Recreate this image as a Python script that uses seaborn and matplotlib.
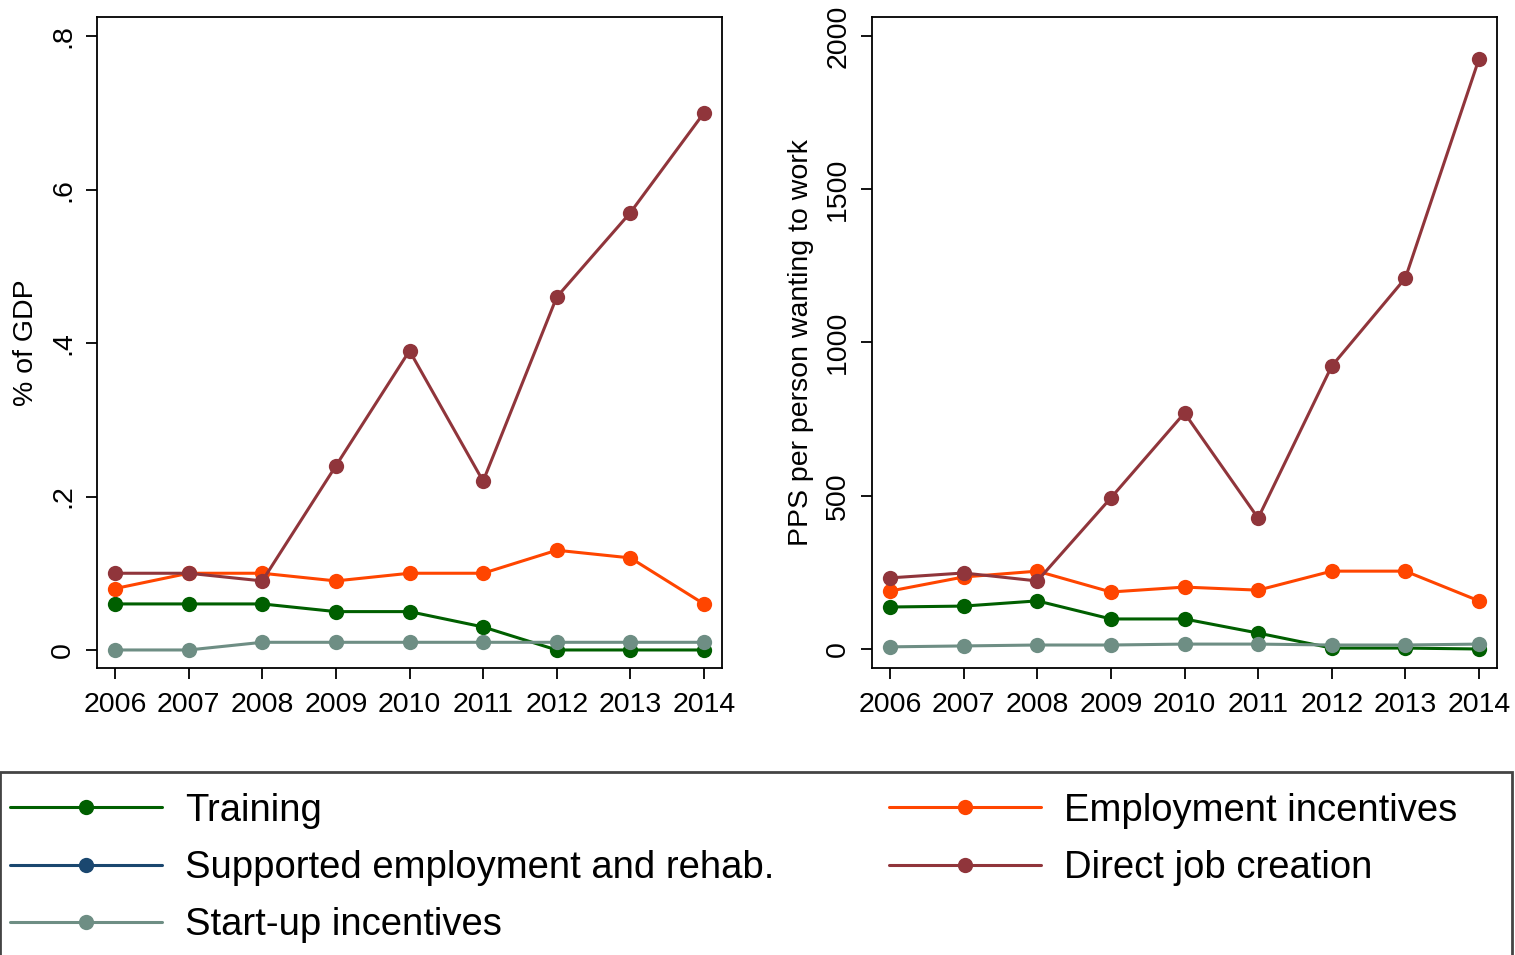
import matplotlib
matplotlib.use("Agg")
import matplotlib.pyplot as plt
import seaborn as sns
import pandas as pd
import numpy as np
from matplotlib.lines import Line2D
from matplotlib.patches import Rectangle

years = [2006, 2007, 2008, 2009, 2010, 2011, 2012, 2013, 2014]

series_names = ["Training", "Supported employment and rehab.", "Start-up incentives",
                "Employment incentives", "Direct job creation"]
series_colors = ["#005f00", "#1a476f", "#6e8e84", "#ff4500", "#90353b"]

# % of GDP
gdp_training = [0.06, 0.06, 0.06, 0.05, 0.05, 0.03, 0.0, 0.0, 0.0]
gdp_supported = [np.nan] * 9
gdp_startup = [0.0, 0.0, 0.01, 0.01, 0.01, 0.01, 0.01, 0.01, 0.01]
gdp_employment = [0.08, 0.10, 0.10, 0.09, 0.10, 0.10, 0.13, 0.12, 0.06]
gdp_direct = [0.10, 0.10, 0.09, 0.24, 0.39, 0.22, 0.46, 0.57, 0.70]

# PPS per person wanting to work
pps_training = [137, 140, 157, 98, 98, 52, 3, 3, 0]
pps_supported = [np.nan] * 9
pps_startup = [7, 10, 13, 13, 16, 16, 13, 13, 16]
pps_employment = [189, 235, 254, 186, 202, 192, 254, 254, 157]
pps_direct = [232, 248, 222, 493, 770, 427, 923, 1210, 1925]

gdp_ticks = [0, 0.2, 0.4, 0.6, 0.8]
gdp_ticklabels = ["0", ".2", ".4", ".6", ".8"]
pps_ticks = [0, 500, 1000, 1500, 2000]
pps_ticklabels = ["0", "500", "1000", "1500", "2000"]

sns.set_style("ticks")
plt.rcParams["font.family"] = ["Liberation Sans", "DejaVu Sans"]
plt.rcParams["text.color"] = "black"
plt.rcParams["axes.labelcolor"] = "black"
plt.rcParams["xtick.color"] = "black"
plt.rcParams["ytick.color"] = "black"

W, H = 1515, 955
fig = plt.figure(figsize=(W / 100, H / 100), dpi=100)
fig.patch.set_facecolor("white")

ax1 = fig.add_axes([97 / W, 1 - 668 / H, 625 / W, 651 / H])
ax2 = fig.add_axes([872 / W, 1 - 668 / H, 625 / W, 651 / H])


def draw(ax, data, ticks, ticklabels, ylim, ylabel):
    for name, color, vals in zip(series_names, series_colors, data):
        df = pd.DataFrame({"year": years, "value": vals}).dropna()
        if len(df) == 0:
            continue
        sns.lineplot(data=df, x="year", y="value", ax=ax, color=color,
                     marker="o", markersize=11, markeredgewidth=0,
                     linewidth=2.2, legend=False)
    ax.set_xlim(2005.755, 2014.245)
    ax.set_ylim(*ylim)
    ax.set_xticks(years)
    ax.set_xticklabels([str(y) for y in years], fontsize=20.5)
    ax.set_yticks(ticks)
    ax.set_yticklabels(ticklabels, fontsize=20.5, rotation=90, va="center")
    ax.set_xlabel("")
    ax.set_ylabel(ylabel, fontsize=20.5, labelpad=8)
    ax.tick_params(axis="x", direction="out", length=8, width=1.3, pad=9)
    ax.tick_params(axis="y", direction="out", length=8, width=1.3, pad=7)
    for s in ax.spines.values():
        s.set_visible(True)
        s.set_linewidth(1.3)
        s.set_color("black")


draw(ax1, [gdp_training, gdp_supported, gdp_startup, gdp_employment, gdp_direct],
     gdp_ticks, gdp_ticklabels, (-0.0235, 0.825), "% of GDP")
draw(ax2, [pps_training, pps_supported, pps_startup, pps_employment, pps_direct],
     pps_ticks, pps_ticklabels, (-62, 2062), "PPS per person wanting to work")

# legend box
fig.patches.append(Rectangle((0, -0.05), 1512 / W, 1 - 772 / H + 0.05,
                             transform=fig.transFigure, fill=False,
                             edgecolor="#444444", linewidth=2))

handles = [Line2D([0], [0], color=c, marker="o", markersize=11, markeredgewidth=0,
                  linewidth=2.2) for c in series_colors]
fig.legend(handles, series_names, loc="upper left", bbox_to_anchor=(2.5 / W, 1 - 785 / H),
           ncol=2, frameon=False, fontsize=27.5, handlelength=3.98, handletextpad=0.6,
           columnspacing=3.0, labelspacing=0.56, borderpad=0.2, borderaxespad=0)

fig.savefig("out.png", dpi=100, facecolor="white")
